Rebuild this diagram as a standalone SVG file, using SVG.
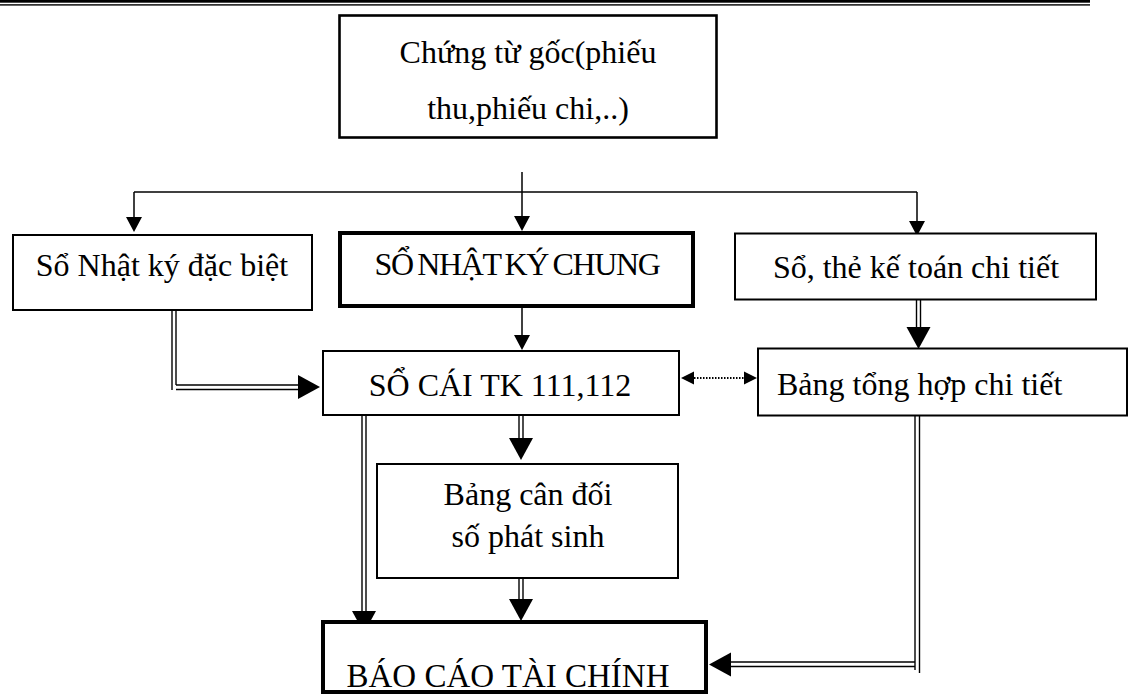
<svg xmlns="http://www.w3.org/2000/svg" width="1135" height="696" viewBox="0 0 1135 696">
  <style>
    .box { fill: #fff; stroke: #000; stroke-width: 2; }
    .box-bold { fill: #fff; stroke: #000; stroke-width: 4; }
    .lbl { font-family: "Liberation Serif", "Times New Roman", "DejaVu Serif", serif; font-size: 32px; fill: #000; }
    .mid { text-anchor: middle; }
    .ln { stroke: #000; stroke-width: 1.5; fill: none; }
    .dbl { stroke: #000; stroke-width: 1.4; fill: none; }
    .dot { stroke: #000; stroke-width: 2; stroke-dasharray: 1.5 1.5; fill: none; }
    .head { fill: #000; }
  </style>
  <defs>
    <!-- arrowheads, all pointing down with the tip at the origin -->
    <path id="head-s" class="head" d="M0,0 L-8,-15 L8,-15 Z"/>
    <path id="head-l" class="head" d="M0,0 L-12,-22 L12,-22 Z"/>
    <path id="head-d" class="head" d="M0,0 L-6.5,-13 L6.5,-13 Z"/>
  </defs>

  <!-- page header rule (thick over thin) -->
  <g id="header-rule">
    <rect x="0" y="0" width="1090" height="2.7" fill="#000"/>
    <rect x="0" y="4.2" width="1090" height="1.4" fill="#000"/>
  </g>

  <!-- connectors -->
  <g id="connectors">
    <!-- source document fan-out -->
    <line class="ln" x1="522" y1="172" x2="522" y2="218"/>
    <line class="ln" x1="134" y1="192" x2="917" y2="192"/>
    <line class="ln" x1="134" y1="192" x2="134" y2="220"/>
    <line class="ln" x1="917" y1="192" x2="917" y2="222"/>
    <use href="#head-s" transform="translate(134,232)"/>
    <use href="#head-s" transform="translate(522,231)"/>
    <use href="#head-s" transform="translate(917,236)"/>

    <!-- general journal to ledger -->
    <line class="ln" x1="522" y1="308" x2="522" y2="337"/>
    <use href="#head-s" transform="translate(522,350)"/>

    <!-- special journal to ledger (double) -->
    <line class="dbl" x1="172" y1="310" x2="172" y2="390"/>
    <line class="dbl" x1="176" y1="310" x2="176" y2="385"/>
    <line class="dbl" x1="176" y1="385" x2="299" y2="385"/>
    <line class="dbl" x1="176" y1="389.5" x2="299" y2="389.5"/>
    <use href="#head-l" transform="translate(320,387) rotate(-90)"/>

    <!-- detail ledgers to detail summary (double) -->
    <line class="dbl" x1="916.5" y1="300" x2="916.5" y2="329"/>
    <line class="dbl" x1="920.5" y1="300" x2="920.5" y2="329"/>
    <use href="#head-l" transform="translate(918.5,349)"/>

    <!-- ledger reconciled with detail summary (dotted, both ends) -->
    <line class="dot" x1="694" y1="378" x2="744" y2="378"/>
    <use href="#head-d" transform="translate(681,378) rotate(90)"/>
    <use href="#head-d" transform="translate(757,378) rotate(-90)"/>

    <!-- ledger to trial balance (double) -->
    <line class="dbl" x1="519" y1="415" x2="519" y2="439"/>
    <line class="dbl" x1="523" y1="415" x2="523" y2="439"/>
    <use href="#head-l" transform="translate(521,460)"/>

    <!-- trial balance to financial statements (double) -->
    <line class="dbl" x1="519" y1="578" x2="519" y2="600"/>
    <line class="dbl" x1="523" y1="578" x2="523" y2="600"/>
    <use href="#head-l" transform="translate(521,621)"/>

    <!-- ledger to financial statements (double) -->
    <line class="dbl" x1="362" y1="415" x2="362" y2="612"/>
    <line class="dbl" x1="366" y1="415" x2="366" y2="612"/>
    <use href="#head-l" transform="translate(364,633)"/>

    <!-- detail summary to financial statements (double) -->
    <line class="dbl" x1="915" y1="416" x2="915" y2="670"/>
    <line class="dbl" x1="919.5" y1="416" x2="919.5" y2="673"/>
    <line class="dbl" x1="730" y1="662" x2="915" y2="662"/>
    <line class="dbl" x1="730" y1="666.5" x2="915" y2="666.5"/>
    <use href="#head-l" transform="translate(709,664.5) rotate(90)"/>
  </g>

  <!-- nodes -->
  <g id="node-chung-tu-goc">
    <rect x="339.5" y="15.5" width="377" height="122" fill="#fff" stroke="#000" stroke-width="2.6"/>
    <text class="lbl mid" x="528" y="63">Chứng từ gốc(phiếu</text>
    <text class="lbl mid" x="528" y="119">thu,phiếu chi,..)</text>
  </g>

  <g id="node-nhat-ky-dac-biet">
    <rect class="box" x="13" y="235" width="299" height="75"/>
    <text class="lbl mid" x="162" y="276">Sổ Nhật ký đặc biệt</text>
  </g>

  <g id="node-nhat-ky-chung">
    <rect class="box-bold" x="340" y="233" width="353" height="73"/>
    <text class="lbl mid" x="517" y="275" word-spacing="-2" letter-spacing="-1.4">SỔ NHẬT KÝ CHUNG</text>
  </g>

  <g id="node-so-the-chi-tiet">
    <rect class="box" x="735" y="233.5" width="361" height="66"/>
    <text class="lbl mid" x="916" y="278">Sổ, thẻ kế toán chi tiết</text>
  </g>

  <g id="node-so-cai">
    <rect class="box" x="323" y="351" width="356" height="64"/>
    <text class="lbl mid" x="500" y="396">SỔ CÁI TK 111,112</text>
  </g>

  <g id="node-tong-hop-chi-tiet">
    <rect class="box" x="758" y="348.5" width="369" height="67"/>
    <text class="lbl" x="777" y="395">Bảng tổng hợp chi tiết</text>
  </g>

  <g id="node-can-doi-phat-sinh">
    <rect class="box" x="377" y="464" width="301" height="114"/>
    <text class="lbl mid" x="528" y="505">Bảng cân đối</text>
    <text class="lbl mid" x="528" y="547">số phát sinh</text>
  </g>

  <g id="node-bao-cao-tai-chinh">
    <rect class="box-bold" x="323" y="622" width="383" height="70"/>
    <text class="lbl mid" x="508" y="687" style="font-size:33px">BÁO CÁO TÀI CHÍNH</text>
  </g>
</svg>
